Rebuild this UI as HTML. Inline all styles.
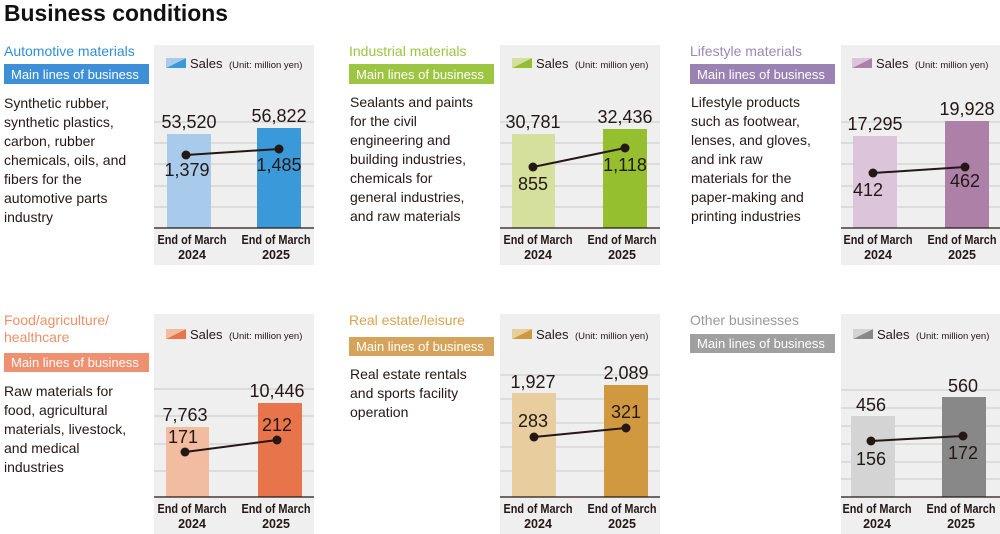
<!DOCTYPE html>
<html><head><meta charset="utf-8"><style>
body{margin:0;width:1000px;height:534px;overflow:hidden;background:#fff}
svg{display:block}
text{font-family:"Liberation Sans",sans-serif}
.v{font-size:18px;fill:#231815;text-anchor:middle}
.x{font-size:12.5px;font-weight:bold;fill:#231815;text-anchor:middle}
.d{font-size:14px;fill:#231815}
.t{font-size:14px}
.tag{font-size:13px;fill:#fff}
.s{font-size:13px;fill:#231815}
.u{font-size:9.5px;fill:#231815}
</style></head><body>
<svg width="1000" height="534" viewBox="0 0 1000 534">
<text x="4" y="21" style="font-size:23px;font-weight:bold" fill="#111" textLength="224" lengthAdjust="spacingAndGlyphs">Business conditions</text>

<!-- Automotive -->
<text class="t" x="4" y="56" fill="#2f8fd6">Automotive materials</text>
<rect x="4" y="64" width="145" height="20" fill="#3d8fd8"/>
<text class="tag" x="11" y="79">Main lines of business</text>
<text class="d" x="4" y="108">Synthetic rubber,</text>
<text class="d" x="4" y="127">synthetic plastics,</text>
<text class="d" x="4" y="146">carbon, rubber</text>
<text class="d" x="4" y="165">chemicals, oils, and</text>
<text class="d" x="4" y="184">fibers for the</text>
<text class="d" x="4" y="203">automotive parts</text>
<text class="d" x="4" y="222">industry</text>
<rect x="154" y="45" width="160" height="220" fill="#efefef"/>
<g stroke="#d0d0d0" stroke-width="1.2"><line x1="154" x2="314" y1="122" y2="122"/><line x1="154" x2="314" y1="143" y2="143"/><line x1="154" x2="314" y1="164" y2="164"/><line x1="154" x2="314" y1="186" y2="186"/><line x1="154" x2="314" y1="207" y2="207"/></g>
<polygon points="166,68 186,68 186,58" fill="#3a9ad9"/><polygon points="166,58 186,58 166,68" fill="#a9cbeb"/>
<text class="s" x="190" y="68">Sales</text><text class="u" x="229" y="68">(Unit: million yen)</text>
<rect x="167" y="134" width="44" height="94" fill="#a9cbeb"/>
<rect x="257" y="128" width="44" height="100" fill="#3a9ad9"/>
<line x1="154" x2="314" y1="228" y2="228" stroke="#231815" stroke-width="1.2"/>
<line x1="186" y1="155" x2="279" y2="149" stroke="#231815" stroke-width="2"/><circle cx="186" cy="155" r="4.5" fill="#231815"/><circle cx="279" cy="149" r="4.5" fill="#231815"/>
<text class="v" x="189" y="128">53,520</text><text class="v" x="279" y="122">56,822</text>
<text class="v" x="187" y="176">1,379</text><text class="v" x="279" y="171">1,485</text>
<text class="x" x="192" y="244" textLength="69" lengthAdjust="spacingAndGlyphs">End of March</text><text class="x" x="192" y="259">2024</text>
<text class="x" x="276" y="244" textLength="69" lengthAdjust="spacingAndGlyphs">End of March</text><text class="x" x="276" y="259">2025</text>

<!-- Industrial -->
<text class="t" x="349" y="56" fill="#9cc542">Industrial materials</text>
<rect x="349" y="64" width="145" height="20" fill="#9cc542"/>
<text class="tag" x="356" y="79">Main lines of business</text>
<text class="d" x="350" y="107">Sealants and paints</text>
<text class="d" x="350" y="126">for the civil</text>
<text class="d" x="350" y="145">engineering and</text>
<text class="d" x="350" y="164">building industries,</text>
<text class="d" x="350" y="183">chemicals for</text>
<text class="d" x="350" y="202">general industries,</text>
<text class="d" x="350" y="221">and raw materials</text>
<rect x="500" y="45" width="160" height="220" fill="#efefef"/>
<g stroke="#d0d0d0" stroke-width="1.2"><line x1="500" x2="660" y1="122" y2="122"/><line x1="500" x2="660" y1="143" y2="143"/><line x1="500" x2="660" y1="164" y2="164"/><line x1="500" x2="660" y1="186" y2="186"/><line x1="500" x2="660" y1="207" y2="207"/></g>
<polygon points="512,68 532,68 532,58" fill="#95bf2f"/><polygon points="512,58 532,58 512,68" fill="#d4e09b"/>
<text class="s" x="536" y="68">Sales</text><text class="u" x="575" y="68">(Unit: million yen)</text>
<rect x="512" y="134" width="43" height="94" fill="#d4e09b"/>
<rect x="603" y="129" width="44" height="99" fill="#95bf2f"/>
<line x1="500" x2="660" y1="228" y2="228" stroke="#231815" stroke-width="1.2"/>
<line x1="533" y1="167" x2="625" y2="148" stroke="#231815" stroke-width="2"/><circle cx="533" cy="167" r="4.5" fill="#231815"/><circle cx="625" cy="148" r="4.5" fill="#231815"/>
<text class="v" x="533" y="128">30,781</text><text class="v" x="625" y="123">32,436</text>
<text class="v" x="533" y="190">855</text><text class="v" x="625" y="171">1,118</text>
<text class="x" x="538" y="244" textLength="69" lengthAdjust="spacingAndGlyphs">End of March</text><text class="x" x="538" y="259">2024</text>
<text class="x" x="622" y="244" textLength="69" lengthAdjust="spacingAndGlyphs">End of March</text><text class="x" x="622" y="259">2025</text>

<!-- Lifestyle -->
<text class="t" x="690" y="56" fill="#9d87b8">Lifestyle materials</text>
<rect x="690" y="64" width="145" height="20" fill="#9a82b3"/>
<text class="tag" x="697" y="79">Main lines of business</text>
<text class="d" x="691" y="107">Lifestyle products</text>
<text class="d" x="691" y="126">such as footwear,</text>
<text class="d" x="691" y="145">lenses, and gloves,</text>
<text class="d" x="691" y="164">and ink raw</text>
<text class="d" x="691" y="183">materials for the</text>
<text class="d" x="691" y="202">paper-making and</text>
<text class="d" x="691" y="221">printing industries</text>
<rect x="841" y="45" width="159" height="220" fill="#efefef"/>
<g stroke="#d0d0d0" stroke-width="1.2"><line x1="841" x2="1000" y1="122" y2="122"/><line x1="841" x2="1000" y1="143" y2="143"/><line x1="841" x2="1000" y1="164" y2="164"/><line x1="841" x2="1000" y1="186" y2="186"/><line x1="841" x2="1000" y1="207" y2="207"/></g>
<polygon points="852,68 872,68 872,58" fill="#ad80a8"/><polygon points="852,58 872,58 852,68" fill="#dcc5da"/>
<text class="s" x="876" y="68">Sales</text><text class="u" x="915" y="68">(Unit: million yen)</text>
<rect x="853" y="136" width="44" height="92" fill="#dcc5da"/>
<rect x="945" y="121" width="44" height="107" fill="#ad80a8"/>
<line x1="841" x2="1000" y1="228" y2="228" stroke="#231815" stroke-width="1.2"/>
<line x1="873" y1="173" x2="965" y2="167" stroke="#231815" stroke-width="2"/><circle cx="873" cy="173" r="4.5" fill="#231815"/><circle cx="965" cy="167" r="4.5" fill="#231815"/>
<text class="v" x="875" y="130">17,295</text><text class="v" x="967" y="115">19,928</text>
<text class="v" x="868" y="196">412</text><text class="v" x="965" y="187">462</text>
<text class="x" x="878" y="244" textLength="69" lengthAdjust="spacingAndGlyphs">End of March</text><text class="x" x="878" y="259">2024</text>
<text class="x" x="962" y="244" textLength="69" lengthAdjust="spacingAndGlyphs">End of March</text><text class="x" x="962" y="259">2025</text>

<!-- Food -->
<text class="t" x="4" y="325" fill="#ee8f66">Food/agriculture/</text>
<text class="t" x="4" y="342" fill="#ee8f66">healthcare</text>
<rect x="4" y="353" width="145" height="19" fill="#ef9070"/>
<text class="tag" x="11" y="367">Main lines of business</text>
<text class="d" x="4" y="396">Raw materials for</text>
<text class="d" x="4" y="415">food, agricultural</text>
<text class="d" x="4" y="434">materials, livestock,</text>
<text class="d" x="4" y="453">and medical</text>
<text class="d" x="4" y="472">industries</text>
<rect x="154" y="314" width="160" height="220" fill="#efefef"/>
<g stroke="#d0d0d0" stroke-width="1.2"><line x1="154" x2="314" y1="389" y2="389"/><line x1="154" x2="314" y1="416" y2="416"/><line x1="154" x2="314" y1="444" y2="444"/><line x1="154" x2="314" y1="471" y2="471"/></g>
<polygon points="166,339 186,339 186,329" fill="#e8744c"/><polygon points="166,329 186,329 166,339" fill="#f2bca0"/>
<text class="s" x="190" y="339">Sales</text><text class="u" x="229" y="339">(Unit: million yen)</text>
<rect x="166" y="427" width="43" height="70" fill="#f2bca0"/>
<rect x="258" y="403" width="44" height="94" fill="#e8744c"/>
<line x1="154" x2="314" y1="497" y2="497" stroke="#231815" stroke-width="1.2"/>
<line x1="185" y1="452" x2="277" y2="440" stroke="#231815" stroke-width="2"/><circle cx="185" cy="452" r="4.5" fill="#231815"/><circle cx="277" cy="440" r="4.5" fill="#231815"/>
<text class="v" x="185" y="421">7,763</text><text class="v" x="277" y="397">10,446</text>
<text class="v" x="183" y="443">171</text><text class="v" x="277" y="431">212</text>
<text class="x" x="192" y="513" textLength="69" lengthAdjust="spacingAndGlyphs">End of March</text><text class="x" x="192" y="528">2024</text>
<text class="x" x="276" y="513" textLength="69" lengthAdjust="spacingAndGlyphs">End of March</text><text class="x" x="276" y="528">2025</text>

<!-- Real estate -->
<text class="t" x="349" y="325" fill="#d9a44f">Real estate/leisure</text>
<rect x="349" y="337" width="145" height="19" fill="#d6a35a"/>
<text class="tag" x="356" y="351">Main lines of business</text>
<text class="d" x="350" y="379">Real estate rentals</text>
<text class="d" x="350" y="398">and sports facility</text>
<text class="d" x="350" y="417">operation</text>
<rect x="500" y="314" width="160" height="220" fill="#efefef"/>
<g stroke="#d0d0d0" stroke-width="1.2"><line x1="500" x2="660" y1="375" y2="375"/><line x1="500" x2="660" y1="399" y2="399"/><line x1="500" x2="660" y1="423" y2="423"/><line x1="500" x2="660" y1="447" y2="447"/><line x1="500" x2="660" y1="471" y2="471"/></g>
<polygon points="512,339 532,339 532,329" fill="#d1993f"/><polygon points="512,329 532,329 512,339" fill="#e8cd9e"/>
<text class="s" x="536" y="339">Sales</text><text class="u" x="575" y="339">(Unit: million yen)</text>
<rect x="512" y="393" width="44" height="104" fill="#e8cd9e"/>
<rect x="604" y="385" width="44" height="112" fill="#d1993f"/>
<line x1="500" x2="660" y1="497" y2="497" stroke="#231815" stroke-width="1.2"/>
<line x1="534" y1="437" x2="626" y2="428" stroke="#231815" stroke-width="2"/><circle cx="534" cy="437" r="4.5" fill="#231815"/><circle cx="626" cy="428" r="4.5" fill="#231815"/>
<text class="v" x="533" y="388">1,927</text><text class="v" x="626" y="379">2,089</text>
<text class="v" x="533" y="427">283</text><text class="v" x="626" y="418">321</text>
<text class="x" x="538" y="513" textLength="69" lengthAdjust="spacingAndGlyphs">End of March</text><text class="x" x="538" y="528">2024</text>
<text class="x" x="622" y="513" textLength="69" lengthAdjust="spacingAndGlyphs">End of March</text><text class="x" x="622" y="528">2025</text>

<!-- Other -->
<text class="t" x="690" y="325" fill="#999">Other businesses</text>
<rect x="690" y="334" width="145" height="19" fill="#a0a0a0"/>
<text class="tag" x="697" y="348">Main lines of business</text>
<rect x="841" y="314" width="159" height="220" fill="#efefef"/>
<g stroke="#d0d0d0" stroke-width="1.2"><line x1="841" x2="1000" y1="390" y2="390"/><line x1="841" x2="1000" y1="408" y2="408"/><line x1="841" x2="1000" y1="426" y2="426"/><line x1="841" x2="1000" y1="444" y2="444"/><line x1="841" x2="1000" y1="462" y2="462"/><line x1="841" x2="1000" y1="479" y2="479"/></g>
<polygon points="853,339 873,339 873,329" fill="#888"/><polygon points="853,329 873,329 853,339" fill="#d4d4d4"/>
<text class="s" x="877" y="339">Sales</text><text class="u" x="916" y="339">(Unit: million yen)</text>
<rect x="851" y="416" width="44" height="81" fill="#d4d4d4"/>
<rect x="942" y="397" width="44" height="100" fill="#888"/>
<line x1="841" x2="1000" y1="497" y2="497" stroke="#231815" stroke-width="1.2"/>
<line x1="871" y1="441" x2="963" y2="436" stroke="#231815" stroke-width="2"/><circle cx="871" cy="441" r="4.5" fill="#231815"/><circle cx="963" cy="436" r="4.5" fill="#231815"/>
<text class="v" x="871" y="411">456</text><text class="v" x="963" y="392">560</text>
<text class="v" x="871" y="465">156</text><text class="v" x="963" y="459">172</text>
<text class="x" x="877" y="513" textLength="69" lengthAdjust="spacingAndGlyphs">End of March</text><text class="x" x="877" y="528">2024</text>
<text class="x" x="961" y="513" textLength="69" lengthAdjust="spacingAndGlyphs">End of March</text><text class="x" x="961" y="528">2025</text>
</svg>
</body></html>
